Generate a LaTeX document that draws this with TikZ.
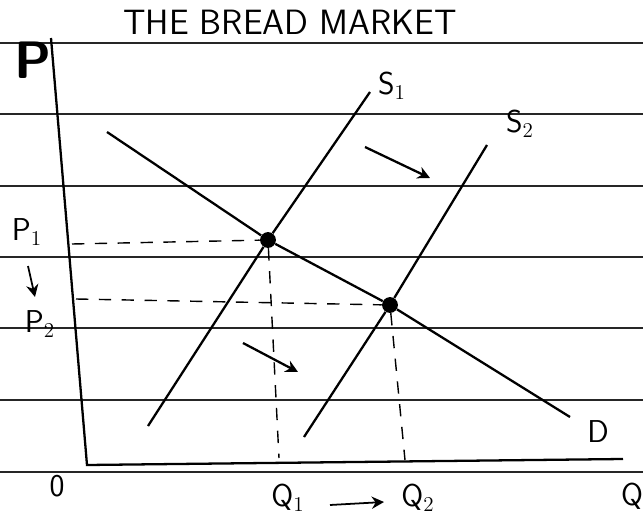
\documentclass[tikz,border=0pt]{standalone}
\usepackage{tikz}
\usetikzlibrary{arrows.meta}

\begin{document}
\begin{tikzpicture}[x=.02cm,y=-.02cm,font=\sffamily,
 rule/.style={line width=1.1pt,black!85},
 axis/.style={line width=1.3pt},
 curve/.style={line width=1.3pt},
 guide/.style={line width=.8pt,dash pattern=on 7pt off 6pt},
 moveline/.style={line width=1.3pt,-{Stealth[length=7pt,width=7pt]}},
 dot/.style={circle,fill=black,inner sep=0pt,minimum size=9pt},
 lbl/.style={inner sep=1pt,font=\sffamily\fontsize{18}{20}\selectfont}]
 \useasboundingbox (0,0) rectangle (643,524);
 % ruled paper
 \foreach \y in {43,114,186,257,328,400,472}
   \draw[rule] (0,\y)--(643,\y);
 % axes
 \coordinate (top) at (51,38);
 \coordinate (org) at (87,465);
 \coordinate (qend) at (623,459);
 \draw[axis] (top)--(org)--(qend);
 \node[lbl,font=\sffamily\fontsize{20}{22}\selectfont] (title) at (290,22) {THE BREAD MARKET};
 \node[lbl,font=\sffamily\bfseries\fontsize{30}{32}\selectfont] (plab) at (33,60) {P};
 \node[lbl] (zero) at (57,486) {0};
 \node[lbl] (qlab) at (632,496) {Q};
 % equilibria
 \node[dot] (e1) at (268,240) {};
 \node[dot] (e2) at (390,305) {};
 % demand
 \coordinate (d0) at (107,132);
 \coordinate (d1) at (570,417);
 \draw[curve] (d0)--(e1)--(e2)--(d1);
 \node[lbl] (dlab) at (598,432) {D};
 % supply curves
 \coordinate (s1a) at (148,426);
 \coordinate (s1b) at (370,92);
 \coordinate (s2a) at (304,437);
 \coordinate (s2b) at (487,145);
 \draw[curve] (s1a)--(e1)--(s1b);
 \draw[curve] (s2a)--(e2)--(s2b);
 \node[lbl] (s1lab) at (392,86) {S$_1$};
 \node[lbl] (s2lab) at (520,124) {S$_2$};
 % shift arrows
 \coordinate (up0) at (365,147);
 \coordinate (up1) at (430,178);
 \coordinate (lo0) at (243,343);
 \coordinate (lo1) at (298,372);
 \draw[moveline] (up0)--(up1);
 \draw[moveline] (lo0)--(lo1);
 % guides
 \coordinate (p1a) at (72,244);
 \coordinate (p2a) at (76,299);
 \coordinate (q1a) at (279,458);
 \coordinate (q2a) at (405,460);
 \draw[guide] (p1a)--(e1);
 \draw[guide] (p2a)--(e2);
 \draw[guide] (e1)--(q1a);
 \draw[guide] (e2)--(q2a);
 % price and quantity labels
 \node[lbl] (p1) at (27,232) {P$_1$};
 \node[lbl] (p2) at (40,324) {P$_2$};
 \coordinate (pa0) at (28,266);
 \coordinate (pa1) at (35,297);
 \draw[moveline,line width=1pt] (pa0)--(pa1);
 \node[lbl] (q1) at (288,498) {Q$_1$};
 \node[lbl] (q2) at (418,498) {Q$_2$};
 \coordinate (qa0) at (330,505);
 \coordinate (qa1) at (384,502);
 \draw[moveline,line width=1pt] (qa0)--(qa1);
\end{tikzpicture}
\end{document}
